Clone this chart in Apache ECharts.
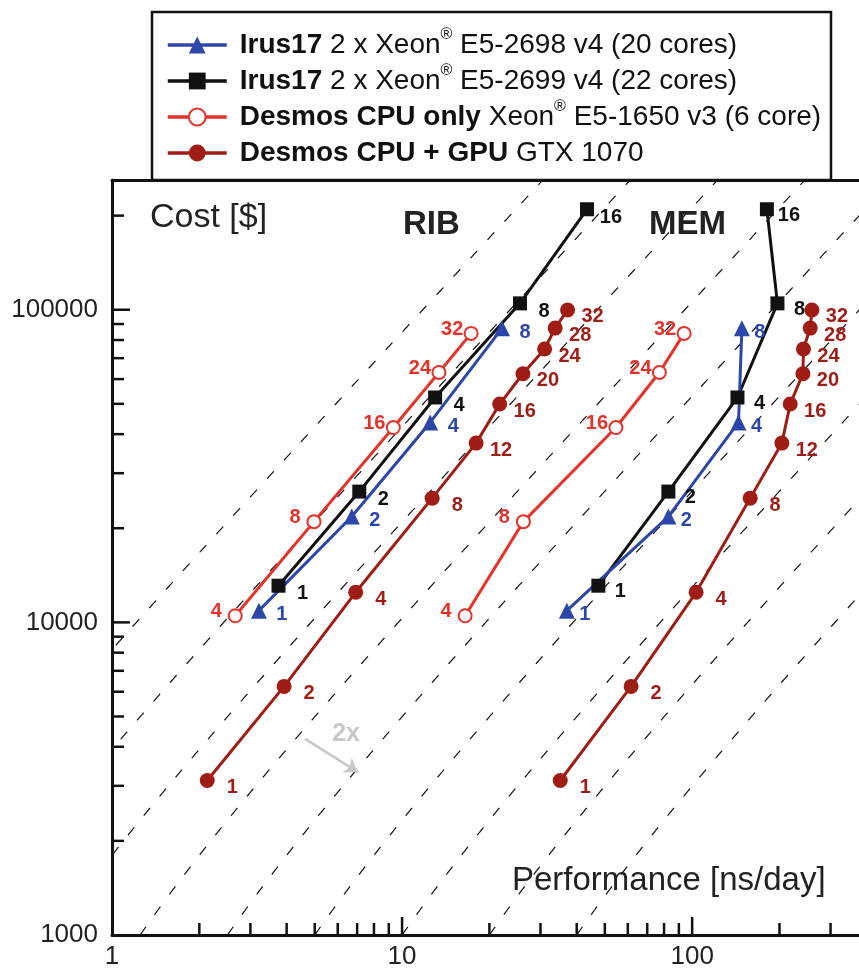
<!DOCTYPE html>
<html>
<head>
<meta charset="utf-8">
<script src="https://cdn.jsdelivr.net/npm/echarts@6/dist/echarts.min.js"></script>
<style>
html, body { margin: 0; padding: 0; background: #fff; }
#main { width: 859px; height: 972px; }
</style>
</head>
<body>
<div id="main"></div>
<script>
// Irus17, 2 x E5-2698 v4 (20 cores): nodes, cost [$], performance [ns/day]
var irus20Nodes = [1, 2, 4, 8];
var irus20Cost = [10900, 21800, 43600, 87200];
var irus20RibPerf = [3.21, 6.71, 12.5, 22.1];
var irus20MemPerf = [37.0, 82.8, 144.5, 148.4];

// Irus17, 2 x E5-2699 v4 (22 cores)
var irus22Nodes = [1, 2, 4, 8, 16];
var irus22Cost = [13100, 26200, 52400, 104800, 209600];
var irus22RibPerf = [3.75, 7.12, 13.0, 25.5, 43.4];
var irus22MemPerf = [47.5, 82.8, 143.3, 196.8, 181.0];

// Desmos CPU only (number of nodes)
var cpuNodes = [4, 8, 16, 24, 32];
var cpuCost = [10500, 21000, 42000, 63000, 84000];
var cpuRibPerf = [2.66, 4.97, 9.33, 13.4, 17.3];
var cpuMemPerf = [16.5, 26.2, 54.6, 77.1, 93.8];

// Desmos CPU + GPU
var gpuNodes = [1, 2, 4, 8, 12, 16, 20, 24, 28, 32];
var gpuCost = [3120, 6240, 12480, 24960, 37440, 49920, 62400, 74880, 87360, 99840];
var gpuRibPerf = [2.13, 3.92, 6.92, 12.7, 18.0, 21.7, 26.1, 31.0, 33.7, 37.2];
var gpuMemPerf = [35.1, 61.6, 103.2, 158.5, 203.8, 217.8, 240.9, 242.0, 255.3, 258.7];

// tick marks
var xTickMajor = [10, 100];
var xTickMinor = [2, 3, 4, 5, 6, 7, 8, 9, 20, 30, 40, 50, 60, 70, 80, 90, 200, 300];
var yTickMajor = [10000, 100000];
var yTickMinor = [2000, 3000, 4000, 5000, 6000, 7000, 8000, 9000,
    20000, 30000, 40000, 50000, 60000, 70000, 80000, 90000, 200000];

// 2x cost-efficiency guides: performance at $1000, and cost offset
var guideBasePerf = [0.15625, 0.3125, 0.625, 1.25, 2.5, 5, 10, 20, 40];
var guideOffset = 330;

// "2x" arrow annotation [perf, cost]
var arrowFrom = [4.63, 4240];
var arrowTo = [7.05, 3320];
var arrowText = [6.41, 4400];

var FONT = "'Liberation Sans', Arial, Helvetica, sans-serif";
var BLUE = '#2d46a9';
var BLACK = '#111111';
var RED = '#e6332a';
var DARKRED = '#9f1d15';

var legendText = {
    irus20: '{b|Irus17} 2 x Xeon{r|®} E5-2698 v4 (20 cores)',
    irus22: '{b|Irus17} 2 x Xeon{r|®} E5-2699 v4 (22 cores)',
    cpu: '{b|Desmos CPU only} Xeon{r|®} E5-1650 v3 (6 core)',
    gpu: '{b|Desmos CPU + GPU} GTX 1070'
};

function pairs(perf, cost) {
    return perf.map(function (p, i) { return [p, cost[i]]; });
}

function makeSeries(name, perf, cost, labels, color, symbol, size, offset) {
    return {
        type: 'line',
        name: name,
        data: pairs(perf, cost),
        symbol: symbol,
        symbolSize: size,
        showAllSymbol: true,
        lineStyle: { color: color, width: 3 },
        itemStyle: { color: color, borderWidth: symbol === 'emptyCircle' ? 2 : 0 },
        label: {
            show: true,
            position: 'inside',
            offset: offset,
            color: color,
            fontFamily: FONT,
            fontSize: 20,
            fontWeight: 'bold',
            textBorderWidth: 0,
            formatter: function (p) { return String(labels[p.dataIndex]); }
        },
        emphasis: { disabled: true },
        z: 3
    };
}

function tickData() {
    var d = [];
    xTickMajor.forEach(function (v) { d.push([v, 1000, 0]); });
    xTickMinor.forEach(function (v) { d.push([v, 1000, 1]); });
    yTickMajor.forEach(function (v) { d.push([1, v, 2]); });
    yTickMinor.forEach(function (v) { d.push([1, v, 3]); });
    return d;
}

function isDecade(v) {
    var l = Math.log(v) / Math.LN10;
    return Math.abs(l - Math.round(l)) < 1e-6;
}

var chart = echarts.init(document.getElementById('main'), null, { renderer: 'canvas' });

var option = {
    animation: false,
    backgroundColor: '#fff',
    textStyle: { fontFamily: FONT },
    grid: { left: 112, right: 0, top: 180, bottom: 37, outerBoundsMode: 'none' },
    legend: {
        data: ['irus20', 'irus22', 'cpu', 'gpu'],
        orient: 'vertical',
        left: 166,
        top: 27,
        padding: 0,
        itemWidth: 59,
        itemHeight: 21,
        itemGap: 0,
        selectedMode: false,
        z: 6,
        lineStyle: { width: 3.5 },
        formatter: function (name) { return legendText[name]; },
        textStyle: {
            fontFamily: FONT,
            fontSize: 28,
            color: '#111',
            lineHeight: 36,
            padding: [0, 0, 0, 8],
            rich: {
                b: { fontFamily: FONT, fontSize: 28, fontWeight: 'bold', color: '#111', lineHeight: 36 },
                r: { fontFamily: FONT, fontSize: 16, color: '#111', verticalAlign: 'top', lineHeight: 33 }
            }
        }
    },
    xAxis: [{
        type: 'log',
        logBase: 10,
        min: 1,
        max: 376,
        axisLine: { show: true, lineStyle: { color: '#111', width: 3 } },
        axisTick: { show: false },
        splitLine: { show: false },
        axisLabel: {
            color: '#222',
            fontSize: 26,
            fontFamily: FONT,
            margin: 9,
            formatter: function (v) { return isDecade(v) && v < 300 ? String(Math.round(v)) : ''; }
        }
    }, {
        type: 'log',
        logBase: 10,
        min: 1,
        max: 376,
        position: 'top',
        axisLine: { show: true, lineStyle: { color: '#111', width: 3 } },
        axisTick: { show: false },
        axisLabel: { show: false },
        splitLine: { show: false }
    }],
    yAxis: {
        type: 'log',
        logBase: 10,
        min: 1000,
        max: 260000,
        axisLine: { show: true, lineStyle: { color: '#111', width: 3 } },
        axisTick: { show: false },
        splitLine: { show: false },
        axisLabel: {
            color: '#222',
            fontSize: 26,
            fontFamily: FONT,
            margin: 14,
            formatter: function (v) { return isDecade(v) && v < 200000 ? String(Math.round(v)) : ''; }
        }
    },
    graphic: [
        {
            type: 'rect',
            z: 5,
            shape: { x: 152, y: 12, width: 679, height: 168 },
            style: { fill: '#fff', stroke: '#111', lineWidth: 2.5 }
        },
        {
            type: 'text', z: 4, x: 150, y: 218,
            style: { text: 'Cost [$]', font: '34px ' + FONT, fill: '#222', textVerticalAlign: 'middle' }
        },
        {
            type: 'text', z: 4, x: 512, y: 881,
            style: { text: 'Performance [ns/day]', font: '33px ' + FONT, fill: '#222', textVerticalAlign: 'middle' }
        },
        {
            type: 'text', z: 4, x: 403, y: 225,
            style: { text: 'RIB', font: 'bold 33px ' + FONT, fill: '#222', textVerticalAlign: 'middle' }
        },
        {
            type: 'text', z: 4, x: 649, y: 225,
            style: { text: 'MEM', font: 'bold 33px ' + FONT, fill: '#222', textVerticalAlign: 'middle' }
        }
    ],
    series: [
        {
            type: 'custom',
            name: 'guides',
            silent: true,
            clip: true,
            z: 1,
            data: guideBasePerf.map(function (b) { return [b, 1000]; }),
            renderItem: function (params, api) {
                var b = api.value(0);
                var pts = [];
                for (var i = 0; i <= 250; i++) {
                    var c = 1000 * Math.pow(10, i * 0.01);
                    var p = b * (c + guideOffset) / (1000 + guideOffset);
                    pts.push(api.coord([p, c]));
                }
                return {
                    type: 'polyline',
                    shape: { points: pts },
                    style: { stroke: '#111', lineWidth: 1.2, lineDash: [10, 15], fill: null }
                };
            }
        },
        {
            type: 'custom',
            name: 'ticks',
            silent: true,
            z: 4,
            data: tickData(),
            renderItem: function (params, api) {
                var pt = api.coord([api.value(0), api.value(1)]);
                var kind = api.value(2);
                var len = kind % 2 === 0 ? 18 : 12;
                var end = kind < 2 ? [pt[0], pt[1] - len] : [pt[0] + len, pt[1]];
                return {
                    type: 'line',
                    shape: { x1: pt[0], y1: pt[1], x2: end[0], y2: end[1] },
                    style: { stroke: '#111', lineWidth: 2.5 }
                };
            }
        },
        {
            type: 'line',
            name: 'annot',
            data: [],
            silent: true,
            markLine: {
                silent: true,
                symbol: ['none', 'arrow'],
                symbolSize: 13,
                label: { show: false },
                lineStyle: { color: '#c8c8c8', width: 2.5, type: 'solid' },
                data: [[{ coord: arrowFrom }, { coord: arrowTo }]]
            },
            markPoint: {
                silent: true,
                symbol: 'circle',
                symbolSize: 0,
                label: {
                    show: true, position: 'inside', formatter: '2x',
                    color: '#c8c8c8', fontSize: 25, fontWeight: 'bold', fontFamily: FONT
                },
                data: [{ coord: arrowText }]
            }
        },
        makeSeries('cpu', cpuRibPerf, cpuCost, cpuNodes, RED, 'emptyCircle', 13, [-19, -4]),
        makeSeries('cpu', cpuMemPerf, cpuCost, cpuNodes, RED, 'emptyCircle', 13, [-19, -4]),
        makeSeries('gpu', gpuRibPerf, gpuCost, gpuNodes, DARKRED, 'circle', 15, [25, 7]),
        makeSeries('gpu', gpuMemPerf, gpuCost, gpuNodes, DARKRED, 'circle', 15, [25, 7]),
        makeSeries('irus22', irus22RibPerf, irus22Cost, irus22Nodes, BLACK, 'rect', 14, [24, 8]),
        makeSeries('irus22', irus22MemPerf, irus22Cost, irus22Nodes, BLACK, 'rect', 14, [22, 6]),
        makeSeries('irus20', irus20RibPerf, irus20Cost, irus20Nodes, BLUE, 'triangle', 16, [23, 4]),
        makeSeries('irus20', irus20MemPerf, irus20Cost, irus20Nodes, BLUE, 'triangle', 16, [18, 4])
    ]
};

chart.setOption(option);
</script>
</body>
</html>
